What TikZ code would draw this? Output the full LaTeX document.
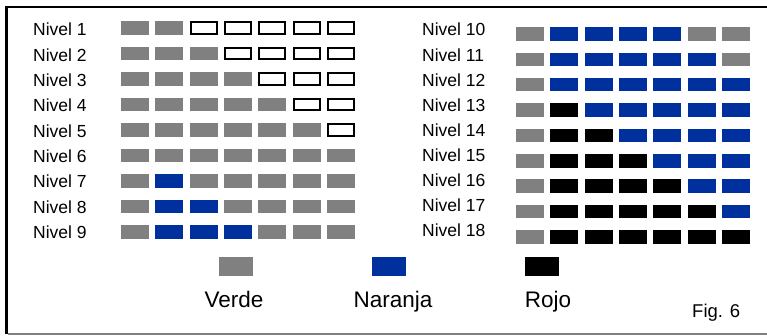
\documentclass[tikz,border=0pt]{standalone}
\usepackage{fontspec}
\setmainfont{Liberation Sans}
\definecolor{cgray}{RGB}{128,128,128}
\definecolor{cblue}{RGB}{0,48,158}
\begin{document}
\begin{tikzpicture}[x=1pt,y=-1pt,
  cell/.style={minimum width=28pt,minimum height=13.5pt,inner sep=0pt,outer sep=0pt},
  cg/.style={cell,fill=cgray},
  cb/.style={cell,fill=cblue},
  ck/.style={cell,fill=black},
  co/.style={cell,minimum width=26pt,minimum height=11.5pt,draw=black,line width=2pt,fill=white},
  legbox/.style={minimum width=34pt,minimum height=18.7pt,inner sep=0pt,outer sep=0pt},
  lbl/.style={anchor=base west,inner sep=0pt,font=\fontsize{17.5}{17.5}\selectfont},
  legtxt/.style={anchor=base,inner sep=0pt,font=\fontsize{22.5}{22.5}\selectfont},
  figtxt/.style={anchor=base west,inner sep=0pt,font=\fontsize{18.5}{18.5}\selectfont}]
\useasboundingbox (0,0) rectangle (767,336);
% frame
\draw[line width=3pt] (6.5,334) -- (6.5,6);
\draw[line width=2pt] (5,7) -- (767,7);
\draw[line width=2.5pt,cgray] (8,334) -- (767,334);
% left grid
\foreach \row [count=\i from 0] in {
  {cg,cg,co,co,co,co,co},
  {cg,cg,cg,co,co,co,co},
  {cg,cg,cg,cg,co,co,co},
  {cg,cg,cg,cg,cg,co,co},
  {cg,cg,cg,cg,cg,cg,co},
  {cg,cg,cg,cg,cg,cg,cg},
  {cg,cb,cg,cg,cg,cg,cg},
  {cg,cb,cb,cg,cg,cg,cg},
  {cg,cb,cb,cb,cg,cg,cg}} {
  \pgfmathtruncatemacro{\lv}{\i+1}
  \node[lbl] (nl\i) at (33,36+25.3*\i) {Nivel \lv};
  \foreach \s [count=\j from 0] in \row {
    \node[\s] (L\i-\j) at (135+34.33*\j,28+25.5*\i) {};
  }
}
% right grid
\foreach \row [count=\i from 0] in {
  {cg,cb,cb,cb,cb,cg,cg},
  {cg,cb,cb,cb,cb,cb,cg},
  {cg,cb,cb,cb,cb,cb,cb},
  {cg,ck,cb,cb,cb,cb,cb},
  {cg,ck,ck,cb,cb,cb,cb},
  {cg,ck,ck,ck,cb,cb,cb},
  {cg,ck,ck,ck,ck,cb,cb},
  {cg,ck,ck,ck,ck,ck,cb},
  {cg,ck,ck,ck,ck,ck,ck}} {
  \pgfmathtruncatemacro{\lv}{\i+10}
  \node[lbl] (nr\i) at (422,36+25.1*\i) {Nivel \lv};
  \foreach \s [count=\j from 0] in \row {
    \node[\s] (R\i-\j) at (530+34.33*\j,34+25.375*\i) {};
  }
}
% legend
\node[legbox,fill=cgray] (lg) at (236,266.4) {};
\node[legbox,fill=cblue] (lb) at (389,266.4) {};
\node[legbox,fill=black] (lk) at (542,266.4) {};
\node[legtxt] (tg) at (234,307.7) {Verde};
\node[legtxt] (tb) at (393,307.7) {Naranja};
\node[legtxt] (tk) at (548,307.7) {Rojo};
\node[figtxt] (fig) at (692,317.3) {Fig. 6};
\end{tikzpicture}
\end{document}
